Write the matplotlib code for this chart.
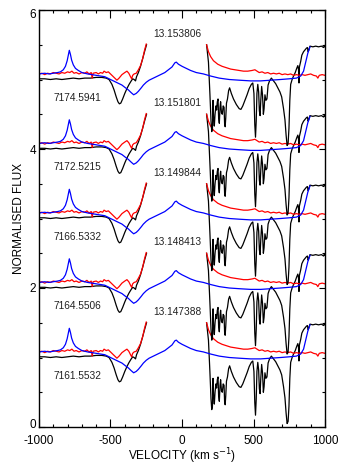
import numpy as np
import matplotlib
matplotlib.use("Agg")
import matplotlib.pyplot as plt
import matplotlib.transforms as mtransforms
from matplotlib.ticker import MultipleLocator

plt.rcParams.update({"font.family": ["Liberation Sans", "DejaVu Sans"], "font.size": 8.5})

# epochs, bottom to top; each spectrum is shifted up by 1 per epoch
epoch_offset = [0, 1, 2, 3, 4]
epoch_label = ["7161.5532", "7164.5506", "7166.5332", "7172.5215", "7174.5941"]
phase_label = ["13.147388", "13.148413", "13.149844", "13.151801", "13.153806"]

# blue line profile (velocity km/s, normalised flux)
blue_v = [-1000, -960, -930, -900, -870, -850, -830, -815, -803, -795, -788, -780, -772, -760,
          -745, -725, -700, -680, -660, -630, -600, -570, -540, -510, -480, -450, -420, -395,
          -375, -355, -338, -320, -305, -285, -270, -250, -230, -210, -180, -150, -120, -95,
          -70, -50, -40, -25, 0, 30, 60, 100, 150, 200, 260, 330, 400, 480, 550, 620, 690,
          750, 800, 830, 850, 865, 880, 895]
blue_f = [1.08, 1.09, 1.08, 1.09, 1.10, 1.11, 1.14, 1.19, 1.27, 1.35, 1.42, 1.36, 1.28, 1.21,
          1.16, 1.13, 1.10, 1.09, 1.08, 1.07, 1.06, 1.05, 1.04, 1.01, 0.98, 0.95, 0.92, 0.88,
          0.85, 0.81, 0.78, 0.80, 0.83, 0.88, 0.92, 0.96, 0.99, 1.01, 1.04, 1.07, 1.10, 1.14,
          1.18, 1.24, 1.25, 1.22, 1.19, 1.16, 1.13, 1.10, 1.08, 1.05, 1.02, 1.00, 0.99, 0.98,
          0.98, 0.99, 1.00, 1.01, 1.02, 1.05, 1.12, 1.25, 1.38, 1.47]

# red line, blue and red wings (the core is off scale)
red_lv = [-1000, -980, -960, -940, -920, -900, -880, -860, -840, -820, -800, -785, -770, -755,
          -740, -720, -700, -680, -665, -650, -635, -628, -622, -600, -585, -570, -555, -545,
          -530, -515, -500, -485, -470, -455, -440, -420, -400, -385, -372, -360, -352, -345,
          -335, -320, -305, -290, -275, -262, -250]
red_lf = [1.08, 1.09, 1.07, 1.09, 1.08, 1.10, 1.09, 1.08, 1.10, 1.09, 1.11, 1.10, 1.12, 1.09,
          1.10, 1.08, 1.10, 1.09, 1.11, 1.08, 1.10, 1.02, 1.09, 1.10, 1.08, 1.10, 1.09, 1.12,
          1.10, 1.11, 1.08, 1.05, 1.02, 0.99, 1.02, 1.07, 1.10, 1.12, 1.09, 1.04, 1.01, 1.06,
          1.08, 1.09, 1.14, 1.20, 1.30, 1.42, 1.51]
red_rv = [172, 185, 200, 220, 250, 280, 310, 340, 370, 400, 430, 460, 490, 510, 525, 540, 560,
          580, 600, 620, 640, 660, 680, 700, 720, 740, 760, 780, 800, 820, 840, 860, 880, 900,
          920, 940, 950, 960, 980, 1000]
red_rf = [1.50, 1.40, 1.33, 1.27, 1.22, 1.19, 1.17, 1.15, 1.14, 1.13, 1.12, 1.12, 1.13, 1.14,
          1.12, 1.10, 1.11, 1.09, 1.10, 1.08, 1.09, 1.08, 1.09, 1.07, 1.08, 1.07, 1.08, 1.06,
          1.07, 1.06, 1.07, 1.06, 1.07, 1.08, 1.06, 1.05, 1.02, 1.06, 1.07, 1.06]

# black line, blue and red sides
black_lv = [-1000, -960, -920, -880, -840, -800, -760, -720, -680, -640, -600, -560, -530, -510,
            -490, -475, -460, -448, -438, -428, -415, -400, -385, -370, -355, -345, -335, -325,
            -318, -305, -290, -275, -262, -248]
black_lf = [1.01, 1.01, 1.00, 1.01, 1.00, 1.01, 1.02, 1.01, 1.02, 1.02, 1.03, 1.03, 1.02, 1.00,
            0.93, 0.85, 0.75, 0.68, 0.65, 0.66, 0.72, 0.80, 0.87, 0.93, 0.98, 1.01, 1.00, 0.98,
            1.04, 1.10, 1.19, 1.30, 1.40, 1.50]
black_rv = [172, 185, 195, 203, 208, 213, 217, 221, 226, 231, 237, 242, 247, 252, 256, 261, 266,
            270, 276, 282, 288, 294, 298, 302, 306, 311, 318, 326, 333, 345, 360, 380, 400, 412,
            425, 440, 455, 470, 485, 495, 503, 509, 514, 519, 524, 530, 536, 541, 546, 551, 557,
            563, 569, 574, 580, 587, 594, 602, 612, 625, 640, 655, 670, 685, 697, 710, 720, 728,
            735, 742, 748, 754, 760, 770, 780, 792, 802, 810, 815, 818, 821, 830, 838, 850, 862,
            870, 877, 882, 886, 895, 915, 935, 955, 975, 990, 996, 1000]
black_rf = [1.50, 1.25, 0.80, 0.40, 0.25, 0.30, 0.70, 0.45, 0.33, 0.50, 0.62, 0.56, 0.68, 0.72,
            0.45, 0.37, 0.60, 0.68, 0.52, 0.50, 0.62, 0.60, 0.36, 0.32, 0.45, 0.66, 0.72, 0.84,
            0.88, 0.80, 0.72, 0.64, 0.58, 0.57, 0.62, 0.70, 0.78, 0.87, 0.93, 0.95, 0.80, 0.35,
            0.17, 0.40, 0.80, 0.93, 0.82, 0.55, 0.48, 0.70, 0.90, 0.78, 0.50, 0.58, 0.78, 0.70,
            0.72, 0.92, 0.98, 1.02, 0.98, 0.94, 0.88, 0.82, 0.75, 0.58, 0.42, 0.20, 0.05, 0.08,
            0.30, 0.70, 0.93, 1.00, 1.05, 1.10, 1.16, 1.20, 1.14, 0.95, 1.18, 1.26, 1.35, 1.40,
            1.43, 1.45, 1.46, 1.40, 1.42, 1.48, 1.47, 1.48, 1.47, 1.48, 1.46, 1.49, 1.47]

fig = plt.figure(figsize=(3.42, 4.68), dpi=100)
ax = fig.add_axes([39 / 342, 1 - 427 / 468, 286 / 342, 417 / 468])

lw = 0.9
for off, ep, ph in zip(epoch_offset, epoch_label, phase_label):
    ax.plot(black_lv, np.add(black_lf, off), color="black", lw=lw)
    ax.plot(black_rv, np.add(black_rf, off), color="black", lw=lw)
    ax.plot(red_lv, np.add(red_lf, off), color="red", lw=lw)
    ax.plot(red_rv, np.add(red_rf, off), color="red", lw=lw)
    ax.plot(blue_v, np.add(blue_f, off), color="blue", lw=lw)
    ax.text(-732, off + 0.74, ep, fontsize=7.3, ha="center", va="center", color="#222222")
    ax.text(-35, off + 1.66, ph, fontsize=7.3, ha="center", va="center", color="#222222")

ax.set_xlim(-1000, 1000)
ax.set_ylim(0, 6)
ax.set_xticks([-1000, -500, 0, 500, 1000])
ax.set_xticklabels(["-1000", "-500", "0", "500", "1000"])
ax.xaxis.set_minor_locator(MultipleLocator(100))
ax.yaxis.set_major_locator(MultipleLocator(2))
ax.yaxis.set_minor_locator(MultipleLocator(0.5))
ax.tick_params(which="both", direction="in", top=True, right=True, width=0.8, labelsize=8.5)
ax.tick_params(axis="x", which="major", length=5.5, pad=6)
ax.tick_params(axis="y", which="major", length=4, pad=2)
ax.tick_params(which="minor", length=2.5)
for s in ax.spines.values():
    s.set_linewidth(1.0)

# end labels of the flux axis sit just inside the frame
fig.canvas.draw()
for lab in ax.get_yticklabels():
    if lab.get_text() == "0":
        lab.set_transform(lab.get_transform() + mtransforms.ScaledTranslation(0, 4 / 100, fig.dpi_scale_trans))
    elif lab.get_text() == "6":
        lab.set_transform(lab.get_transform() + mtransforms.ScaledTranslation(0, -3 / 100, fig.dpi_scale_trans))

fig.text(182 / 342, 1 - 456 / 468, "VELOCITY (km s$^{-1}$)", ha="center", va="center", fontsize=8.5)
fig.text(19 / 342, 1 - 218 / 468, "NORMALISED FLUX", ha="center", va="center",
         rotation=90, fontsize=8.5)

fig.savefig("out.png", dpi=100, facecolor="white")
